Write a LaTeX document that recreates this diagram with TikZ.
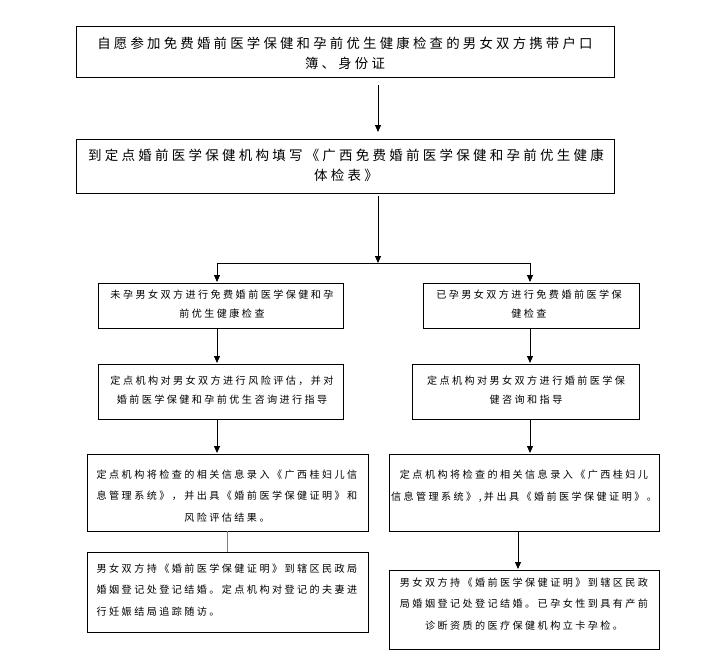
\documentclass[tikz,border=0pt]{standalone}
\usepackage{fontspec}
\setmainfont{Noto Sans CJK SC}[LetterSpace=24]
\usetikzlibrary{arrows.meta}
\tikzset{
  box/.style={draw, line width=0.8pt, inner sep=0pt, outer sep=0pt},
  bigtxt/.style={font=\fontsize{13.4}{20}\selectfont, align=center, inner sep=0pt},
  smalltxt/.style={font=\fontsize{10.1}{19}\selectfont, align=center, inner sep=0pt},
  smalltxtb/.style={font=\fontsize{10.1}{21.5}\selectfont, align=center, inner sep=0pt},
  arr/.style={-{Triangle[width=6pt,length=7pt]}, line width=0.8pt},
  conn/.style={line width=0.8pt},
}
\begin{document}
\begin{tikzpicture}[x=1pt,y=-1pt]
\useasboundingbox (0,0) rectangle (704,659);
% boxes
\node[box, minimum width=538pt, minimum height=51pt] (b1) at (345,51.5) {};
\node[box, minimum width=538pt, minimum height=54pt] (b2) at (345,166) {};
\node[box, minimum width=245pt, minimum height=45pt] (b3l) at (220.5,305.5) {};
\node[box, minimum width=216pt, minimum height=45pt] (b3r) at (531,305.5) {};
\node[box, minimum width=245pt, minimum height=55pt] (b4l) at (220.5,391.5) {};
\node[box, minimum width=227pt, minimum height=55pt] (b4r) at (525.5,391.5) {};
\node[box, minimum width=281pt, minimum height=77pt] (b5l) at (227.5,492.5) {};
\node[box, minimum width=270pt, minimum height=77pt] (b5r) at (524,492.5) {};
\node[box, minimum width=281pt, minimum height=80pt] (b6l) at (227.5,592) {};
\node[box, minimum width=270pt, minimum height=79pt] (b6r) at (524,609.5) {};
% texts
\node[bigtxt] (t1) at (345,53) {自愿参加免费婚前医学保健和孕前优生健康检查的男女双方携带户口\\簿、身份证};
\node[bigtxt, font=\fontsize{13.5}{20}\selectfont] (t2) at (346,165) {到定点婚前医学保健机构填写《广西免费婚前医学保健和孕前优生健康\\体检表》};
\node[smalltxt] (t3l) at (222,304) {未孕男女双方进行免费婚前医学保健和孕\\前优生健康检查};
\node[smalltxt] (t3r) at (529,304) {已孕男女双方进行免费婚前医学保\\健检查};
\node[smalltxt] (t4l) at (222,390) {定点机构对男女双方进行风险评估，并对\\婚前医学保健和孕前优生咨询进行指导};
\node[smalltxt] (t4r) at (526,390) {定点机构对男女双方进行婚前医学保\\健咨询和指导};
\node[smalltxtb] (t5l) at (227,496) {定点机构将检查的相关信息录入《广西桂妇儿信\\息管理系统》，并出具《婚前医学保健证明》和\\风险评估结果。};
\node[smalltxtb] (t5r) at (524,486) {定点机构将检查的相关信息录入《广西桂妇儿\\信息管理系统》,并出具《婚前医学保健证明》。};
\node[smalltxtb, align=left] (t6l) at (227,590) {男女双方持《婚前医学保健证明》到辖区民政局\\婚姻登记处登记结婚。定点机构对登记的夫妻进\\行妊娠结局追踪随访。};
\node[smalltxtb] (t6r) at (524,604) {男女双方持《婚前医学保健证明》到辖区民政\\局婚姻登记处登记结婚。已孕女性到具有产前\\诊断资质的医疗保健机构立卡孕检。};
% connector points
\coordinate (j) at (378,263);
\coordinate (jl) at (217,263);
\coordinate (jr) at (530,263);
\coordinate (xl) at (227,540);
\coordinate (xr) at (518,550);
% connectors
\draw[arr, shorten <=8pt, shorten >=7pt] (b1.south -| j) -- (b2.north -| j);
\draw[arr, shorten <=3pt] (b2.south -| j) -- (j);
\draw[conn] (jl) -- (jr);
\draw[arr, shorten >=1pt] (jl) -- (b3l.north -| jl);
\draw[arr, shorten >=1pt] (jr) -- (b3r.north -| jr);
\draw[arr, shorten >=1pt] (b3l.south -| jl) -- (b4l.north -| jl);
\draw[arr, shorten >=1pt] (b3r.south -| jr) -- (b4r.north -| jr);
\draw[arr, shorten >=1pt] (b4l.south -| jl) -- (b5l.north -| jl);
\draw[arr, shorten >=1pt] (b4r.south -| jr) -- (b5r.north -| jr);
\draw[conn, draw=gray] (b5l.south -| xl) -- (b6l.north -| xl);
\draw[arr, shorten >=1pt] (b5r.south -| xr) -- (b6r.north -| xr);
\end{tikzpicture}
\end{document}
